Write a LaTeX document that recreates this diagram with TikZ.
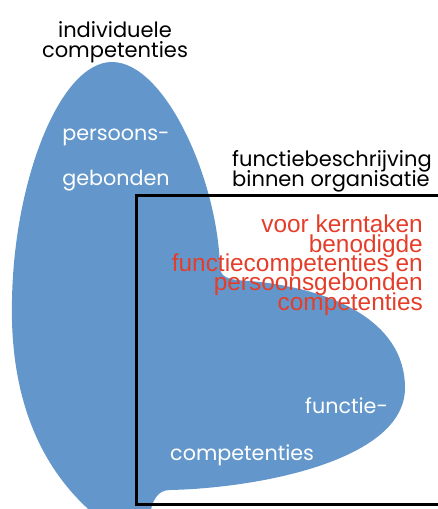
\documentclass[tikz,border=0pt]{standalone}
\usepackage{fontspec}
\newfontfamily\geo{Poppins}
\newfontfamily\arialish{Liberation Sans}
\definecolor{blobblue}{RGB}{99,151,203}
\definecolor{notered}{RGB}{228,62,42}
\begin{document}
\begin{tikzpicture}[x=1pt,y=-1pt,
  headtext/.style={font=\geo\fontsize{21}{24}\selectfont, text=black, inner sep=0pt, anchor=base},
  areatext/.style={font=\geo\fontsize{20.7}{24}\selectfont, text=white, inner sep=0pt, anchor=base},
  notetext/.style={font=\arialish\fontsize{24.4}{19.5}\selectfont, text=notered, inner sep=0pt, anchor=base east},
  framebox/.style={draw=black, line width=3pt}]
\useasboundingbox (0,0) rectangle (438,509);
% competence blob: tall left lobe joined to a wide right lobe
\fill[blobblue]
  (95,515) .. controls (30,460) and (10,380) .. (12,300)
  .. controls (14,180) and (60,62) .. (112,62)
  .. controls (165,62) and (218,180) .. (220,268)
  .. controls (221,279) and (232,280) .. (250,281)
  .. controls (330,288) and (405,320) .. (405,388)
  .. controls (405,460) and (260,488) .. (170,490)
  .. controls (158,490) and (152,500) .. (150,515)
  -- cycle;
% job description frame
\draw[framebox] (136,195) rectangle (441,504);
% labels
\node[headtext] (ind1) at (115,37) {individuele};
\node[headtext] (ind2) at (115,57) {competenties};
\node[headtext, anchor=base west] (fun1) at (232,166) {functiebeschrijving};
\node[headtext, anchor=base west] (fun2) at (232,186) {binnen organisatie};
\node[areatext] (per1) at (116,140) {persoons-};
\node[areatext] (per2) at (116,185) {gebonden};
\node[areatext, anchor=base west] (fc1) at (305,413) {functie-};
\node[areatext, anchor=base west] (fc2) at (170,460) {competenties};
\node[notetext] (n1) at (423,232) {voor kerntaken};
\node[notetext] (n2) at (423,252) {benodigde};
\node[notetext] (n3) at (423,271) {functiecompetenties en};
\node[notetext] (n4) at (423,290) {persoonsgebonden};
\node[notetext] (n5) at (423,310) {competenties};
\end{tikzpicture}
\end{document}
